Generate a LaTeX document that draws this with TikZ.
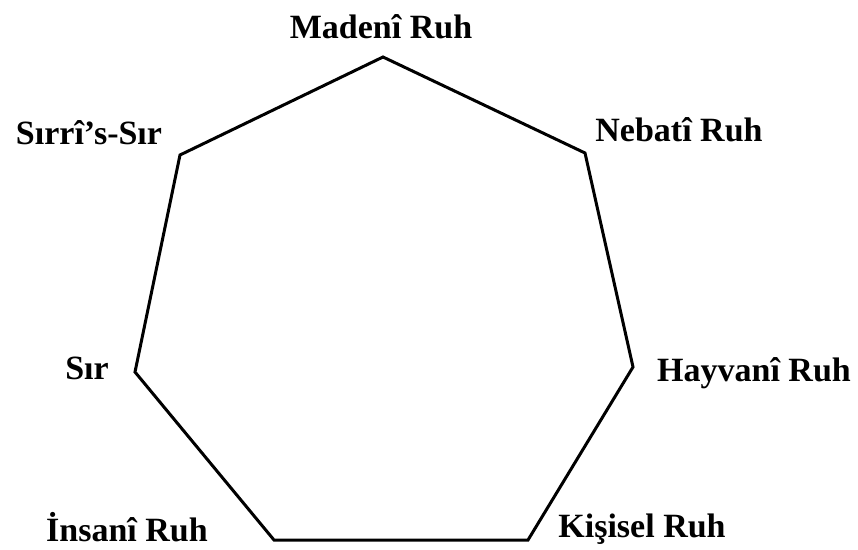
\documentclass[tikz,border=0pt]{standalone}
\usepackage{fontspec}
\setmainfont{Liberation Serif}
\usepackage{tikz}
\usetikzlibrary{positioning}

\begin{document}
\begin{tikzpicture}[
    x=1pt, y=-1pt,
    soul/.style={font=\fontsize{34}{38}\selectfont\bfseries, inner sep=0pt, anchor=center},
    corner/.style={inner sep=0pt, minimum size=0pt},
    edge/.style={line width=3pt, line join=miter}
]
    \useasboundingbox (0,0) rectangle (858,549);

    % --- CORNERS OF THE HEPTAGON ---
    \node[corner] (Maden) at (383, 57) {};
    \node[corner] (Nebat) at (585, 153) {};
    \node[corner] (Hayvan) at (633, 367) {};
    \node[corner] (Kisi) at (528, 540) {};
    \node[corner] (Insan) at (274, 540) {};
    \node[corner] (Sir) at (135, 372) {};
    \node[corner] (SirSir) at (180, 155) {};

    % --- LABELS ---
    \node[soul] (MadenLabel) at (381, 27) {Madenî Ruh};
    \node[soul] (NebatLabel) at (679, 130) {Nebatî Ruh};
    \node[soul] (HayvanLabel) at (754, 373) {Hayvanî Ruh};
    \node[soul] (KisiLabel) at (642, 529) {Kişisel Ruh};
    \node[soul] (InsanLabel) at (127, 527) {İnsanî Ruh};
    \node[soul] (SirLabel) at (87, 368) {Sır};
    \node[soul] (SirSirLabel) at (89, 133) {Sırrî's-Sır};

    % ================= DRAWING THE HEPTAGON =================
    \draw[edge] (Maden.center) -- (Nebat.center) -- (Hayvan.center) -- (Kisi.center)
        -- (Insan.center) -- (Sir.center) -- (SirSir.center) -- cycle;

\end{tikzpicture}
\end{document}
